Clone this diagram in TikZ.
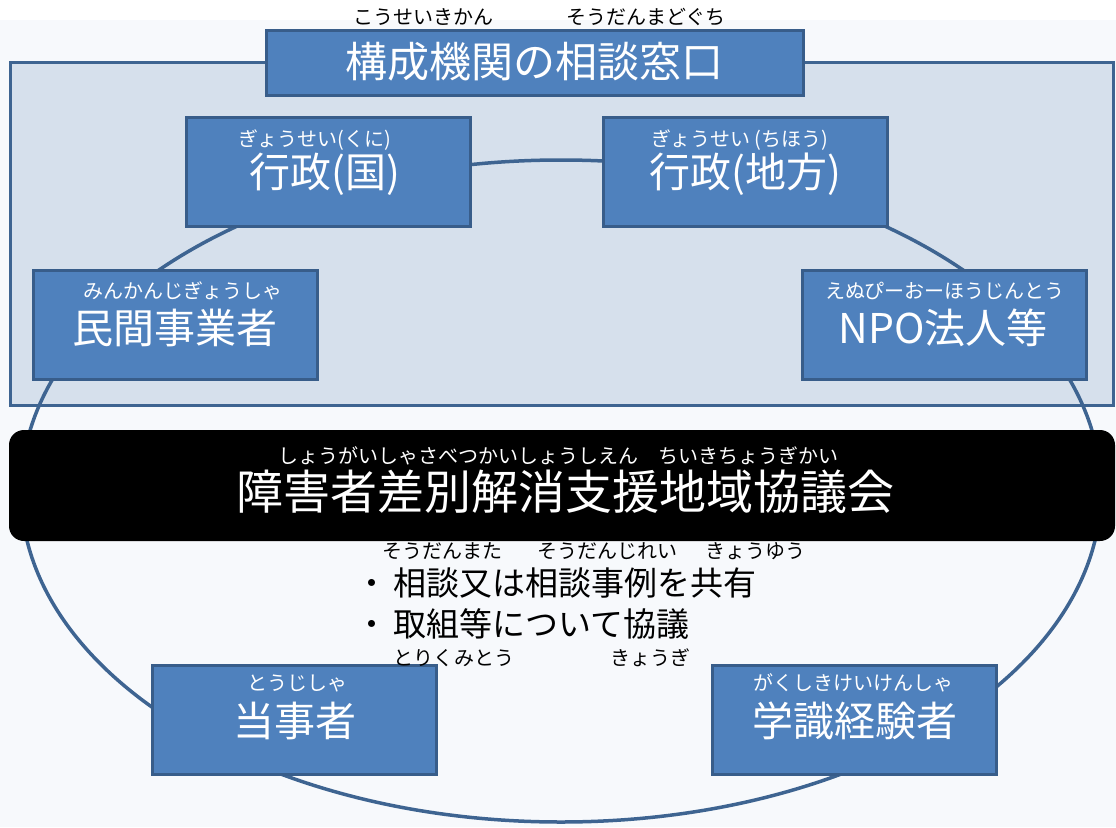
\documentclass[tikz,border=0pt]{standalone}
\usepackage{fontspec}
\setmainfont{Noto Sans CJK JP}
\definecolor{boxblue}{RGB}{79,129,189}
\definecolor{boxline}{RGB}{56,93,138}
\definecolor{panelblue}{RGB}{214,224,236}
\definecolor{ringline}{RGB}{62,100,145}
\definecolor{paper}{RGB}{247,249,252}
\tikzset{
	member/.style={rectangle,draw=boxline,fill=boxblue,line width=3pt,minimum width=284pt,minimum height=109pt,inner sep=0pt},
	ruby/.style={inner sep=0pt,font=\fontsize{20}{22}\selectfont},
	whiteruby/.style={ruby,text=white},
	maintext/.style={inner sep=0pt,text=white,font=\fontsize{41}{44}\selectfont},
	bullettext/.style={inner sep=0pt,anchor=west,font=\fontsize{33}{36}\selectfont}
}
\begin{document}
\begin{tikzpicture}[x=1pt,y=-1pt]
	\clip (0,0) rectangle (1116,827);
	\fill[white] (0,0) rectangle (1116,827);
	\fill[paper] (0,20) rectangle (1116,827);
	% panel of the member organisations
	\draw[fill=panelblue,draw=ringline,line width=3pt] (10,62) rectangle (1113,405);
	\draw[ringline,line width=3.5pt] (561,491) ellipse [x radius=540,y radius=331];
	% top box
	\node[member,minimum width=537pt,minimum height=65pt] (madoguchi) at (534.5,62.5) {};
	\node[maintext,font=\fontsize{42}{44}\selectfont] (madoguchitext) at (534,62) {構成機関の相談窓口};
	\node[ruby] (kouseikikan) at (423,17) {こうせいきかん};
	\node[ruby] (soudanmadoguchi) at (646,17) {そうだんまどぐち};
	% members
	\node[member] (kuni) at (328,171.5) {};
	\node[whiteruby] (kuniruby) at (315,140) {ぎょうせい(くに)};
	\node[maintext] (kunitext) at (325,174) {行政(国)};
	\node[member] (chiho) at (745.5,171.5) {};
	\node[whiteruby] (chihoruby) at (740,140) {ぎょうせい (ちほう)};
	\node[maintext] (chihotext) at (745,174) {行政(地方)};
	\node[member] (minkan) at (175.5,325) {};
	\node[whiteruby] (minkanruby) at (183,291) {みんかんじぎょうしゃ};
	\node[maintext] (minkantext) at (175,328) {民間事業者};
	\node[member] (npo) at (944.5,325) {};
	\node[whiteruby] (nporuby) at (945,291) {えぬぴーおーほうじんとう};
	\node[maintext] (npotext) at (943,328) {NPO法人等};
	\node[member] (tojisha) at (294,719.5) {};
	\node[whiteruby] (tojisharuby) at (297,683) {とうじしゃ};
	\node[maintext] (tojishatext) at (295,721) {当事者};
	\node[member] (gakushiki) at (854,719.5) {};
	\node[whiteruby] (gakushikiruby) at (853,683) {がくしきけいけんしゃ};
	\node[maintext] (gakushikitext) at (855,721) {学識経験者};
	% council
	\node[rectangle,rounded corners=15pt,fill=black,minimum width=1106pt,minimum height=111pt] (kyogikai) at (562,485.5) {};
	\node[whiteruby] (kyogikairuby) at (558,456) {しょうがいしゃさべつかいしょうしえん　ちいきちょうぎかい};
	\node[maintext,font=\fontsize{47}{50}\selectfont] (kyogikaitext) at (565,492) {障害者差別解消支援地域協議会};
	% tasks
	\node[bullettext] (kyoyu) at (355,583) {・\,相談又は相談事例を共有};
	\node[bullettext] (kyogi) at (355,624) {・\,取組等について協議};
	\node[ruby] (soudanmata) at (442,551) {そうだんまた};
	\node[ruby] (soudanjirei) at (607,551) {そうだんじれい};
	\node[ruby] (kyouyuu) at (755,551) {きょうゆう};
	\node[ruby] (torikumitou) at (454,658) {とりくみとう};
	\node[ruby] (kyougi) at (650,658) {きょうぎ};
\end{tikzpicture}
\end{document}
